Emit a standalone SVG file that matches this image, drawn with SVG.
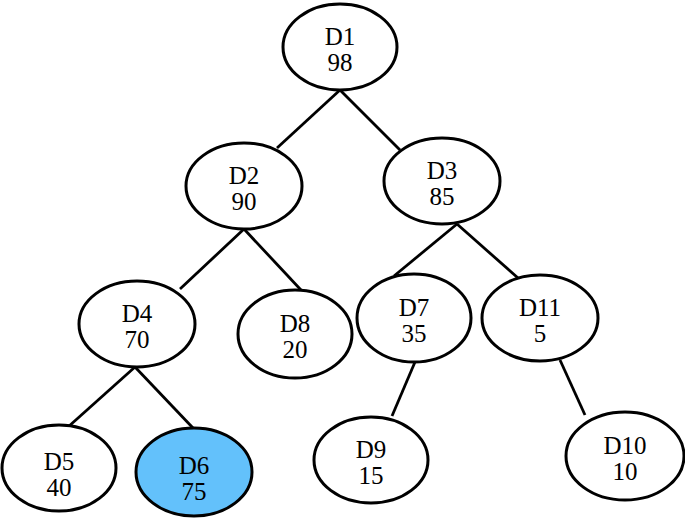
<svg xmlns="http://www.w3.org/2000/svg" width="685" height="518" viewBox="0 0 685 518">
<style>
.n ellipse{fill:#fff;stroke:#000;stroke-width:3}
.n.hl ellipse{fill:#63C1FB}
.n text{font-family:"Liberation Serif","Times New Roman",serif;font-size:25px;text-anchor:middle;fill:#000}
.e line{stroke:#000;stroke-width:2.8}
</style>
<rect width="685" height="518" fill="#fff"/>
<g class="e" id="connectors">
<line x1="340" y1="90" x2="277" y2="148"/>
<line x1="340" y1="90" x2="400" y2="150"/>
<line x1="244" y1="229" x2="180" y2="289"/>
<line x1="244" y1="229" x2="301" y2="290"/>
<line x1="457" y1="224" x2="394" y2="276"/>
<line x1="457" y1="224" x2="518" y2="278"/>
<line x1="135" y1="367" x2="68" y2="427"/>
<line x1="135" y1="367" x2="193" y2="428"/>
<line x1="415" y1="362" x2="392" y2="416"/>
<line x1="560" y1="360" x2="585" y2="415"/>
</g>
<g class="n" id="D1"><ellipse cx="340" cy="47" rx="57" ry="43"/><text x="340" y="45">D1</text><text x="340" y="71">98</text></g>
<g class="n" id="D2"><ellipse cx="244" cy="186" rx="58" ry="43"/><text x="244" y="184">D2</text><text x="244" y="210">90</text></g>
<g class="n" id="D3"><ellipse cx="442" cy="181" rx="58" ry="43"/><text x="442" y="179">D3</text><text x="442" y="205">85</text></g>
<g class="n" id="D4"><ellipse cx="137" cy="324" rx="58" ry="43"/><text x="137" y="322">D4</text><text x="137" y="348">70</text></g>
<g class="n" id="D8"><ellipse cx="295" cy="334" rx="57" ry="44"/><text x="295" y="332">D8</text><text x="295" y="358">20</text></g>
<g class="n" id="D7"><ellipse cx="414" cy="318" rx="57" ry="44"/><text x="414" y="316">D7</text><text x="414" y="342">35</text></g>
<g class="n" id="D11"><ellipse cx="540" cy="318" rx="58" ry="43"/><text x="540" y="316">D11</text><text x="540" y="342">5</text></g>
<g class="n" id="D5"><ellipse cx="59" cy="468" rx="57" ry="43"/><text x="59" y="470">D5</text><text x="59" y="496">40</text></g>
<g class="n hl" id="D6"><ellipse cx="194" cy="472" rx="58" ry="44"/><text x="194" y="474">D6</text><text x="194" y="500">75</text></g>
<g class="n" id="D9"><ellipse cx="371" cy="460" rx="57" ry="43"/><text x="371" y="458">D9</text><text x="371" y="484">15</text></g>
<g class="n" id="D10"><ellipse cx="625" cy="456" rx="59" ry="44"/><text x="625" y="454">D10</text><text x="625" y="480">10</text></g>
</svg>
